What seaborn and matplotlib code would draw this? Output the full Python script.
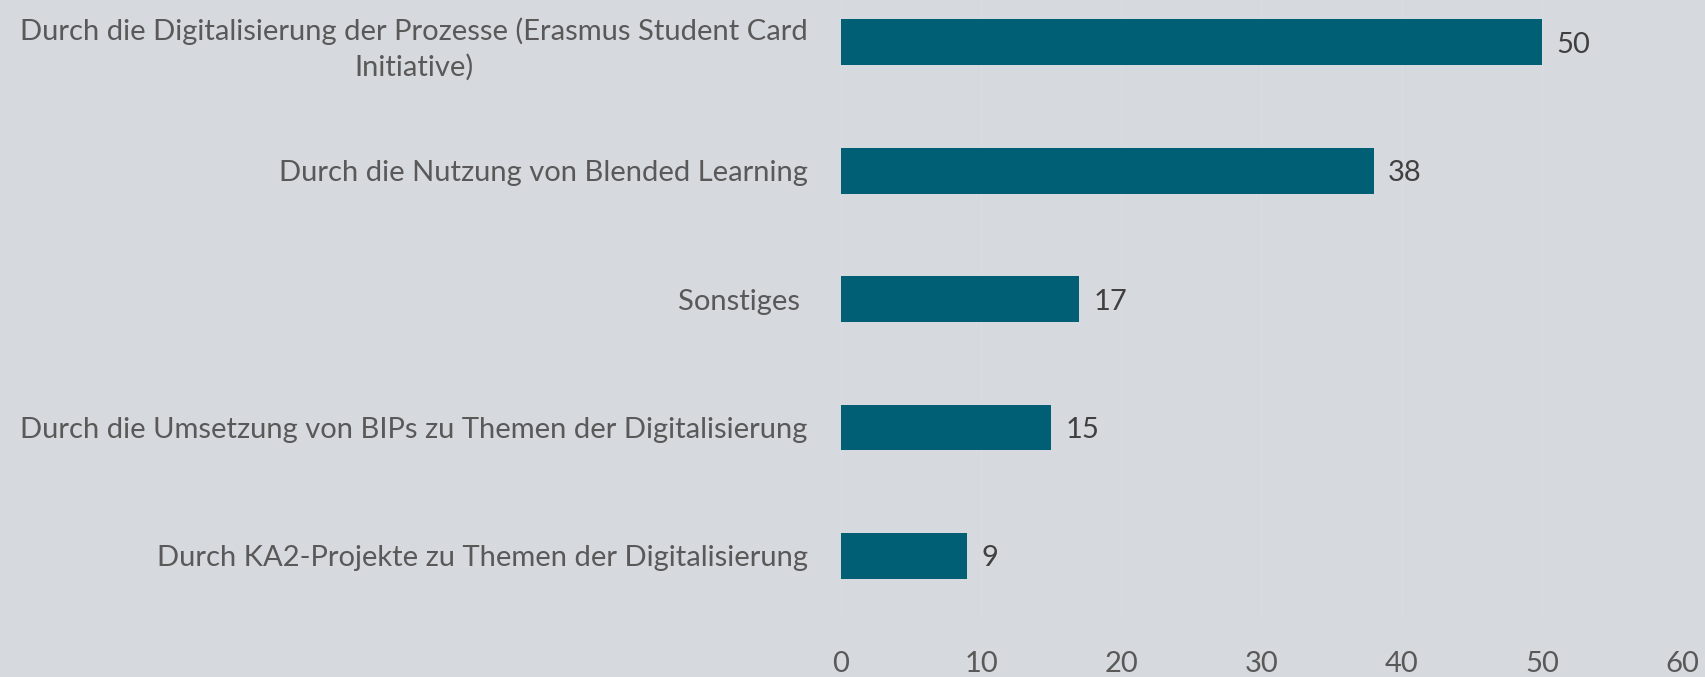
import matplotlib
matplotlib.use("Agg")
import matplotlib.pyplot as plt
import seaborn as sns
import pandas as pd

categories = [
    "Durch die Digitalisierung der Prozesse (Erasmus Student Card\nInitiative)",
    "Durch die Nutzung von Blended Learning",
    "Sonstiges ",
    "Durch die Umsetzung von BIPs zu Themen der Digitalisierung",
    "Durch KA2-Projekte zu Themen der Digitalisierung",
]
values = [50, 38, 17, 15, 9]
xticks = [0, 10, 20, 30, 40, 50, 60]

BG = "#D6D9DD"
BAR = "#005F74"

sns.set_theme(style="white")
plt.rcParams["font.family"] = ["Lato", "DejaVu Sans"]

df = pd.DataFrame({"cat": categories, "val": values})

W, H = 1706, 677
fig = plt.figure(figsize=(W / 100, H / 100), dpi=100, facecolor=BG)
ax = fig.add_axes([841 / W, 1 - 620 / H, (1682 - 841) / W, 620 / H])
ax.set_facecolor(BG)

sns.barplot(data=df, x="val", y="cat", orient="h", color=BAR, width=0.357,
            saturation=1, linewidth=0, ax=ax)

ax.set_xlim(0, 60)
ax.set_ylim(4.5, -0.33)
ax.set_xticks(xticks)
ax.set_xticklabels([str(t) for t in xticks], fontsize=21, color="#595959")
ax.tick_params(axis="x", length=0, pad=22)
ax.tick_params(axis="y", length=0, pad=24)
for lbl in ax.get_yticklabels():
    lbl.set_fontsize(21)
    lbl.set_color("#595959")
    lbl.set_multialignment("center")
    lbl.set_linespacing(1.4)
ax.set_xlabel("")
ax.set_ylabel("")
ax.grid(axis="x", color="#D9DCE0", linewidth=1)
ax.set_axisbelow(True)
for s in ax.spines.values():
    s.set_visible(False)

for i, v in enumerate(values):
    ax.text(v + 1.0, i + 0.02, str(v), va="center", ha="left", fontsize=21, color="#404040")

fig.savefig("out.png", dpi=100, facecolor=BG)
